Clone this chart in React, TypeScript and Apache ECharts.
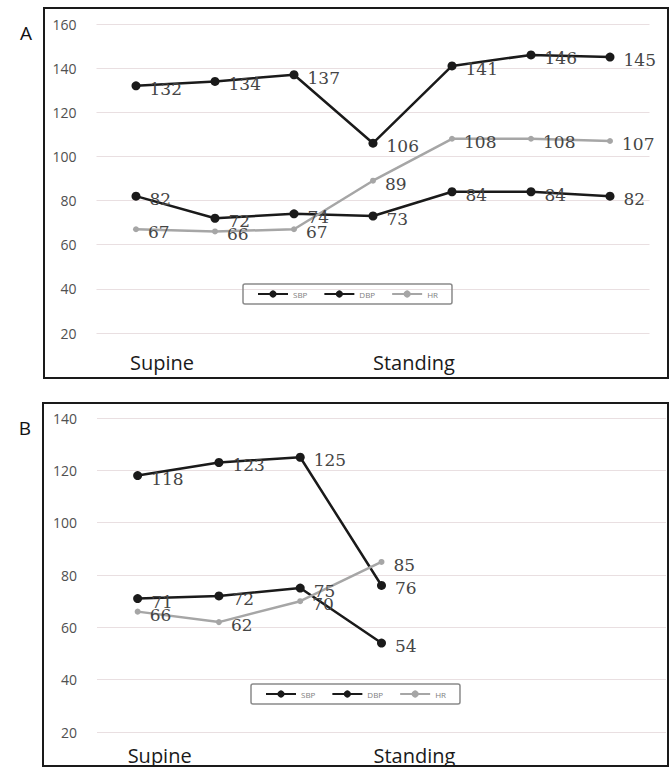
import React, { useEffect, useRef } from "react";
import * as echarts from "echarts";

const categoriesA = ["Supine", "", "", "Standing", "", "", ""];
const sbpA = [132, 134, 137, 106, 141, 146, 145];
const dbpA = [82, 72, 74, 73, 84, 84, 82];
const hrA = [67, 66, 67, 89, 108, 108, 107];

const categoriesB = ["Supine", "", "", "Standing", "", "", ""];
const sbpB = [118, 123, 125, 76];
const dbpB = [71, 72, 75, 54];
const hrB = [66, 62, 70, 85];

const legendNames = ["SBP", "DBP", "HR"];
const panelLetters = ["A", "B"];

const DARK = "#1a1a1a";
const GRAY = "#a6a6a6";
const GRID = "#e9dfe1";

function makeSeries(name: string, data: number[], idx: number, dark: boolean) {
  return {
    name,
    type: "line",
    xAxisIndex: idx,
    yAxisIndex: idx,
    data,
    symbol: "circle",
    symbolSize: dark ? 9 : 6,
    lineStyle: { color: dark ? DARK : GRAY, width: 2.5 },
    itemStyle: { color: dark ? DARK : GRAY },
    label: {
      show: true,
      position: "right",
      distance: 9,
      offset: [0, 3],
      fontFamily: "DejaVu Serif",
      fontSize: 17,
      color: "#454545",
    },
    emphasis: { disabled: true },
  };
}

const labelFont = { fontFamily: "Open Sans", fontSize: 20, color: "#1a1a1a" };

function xAxis(idx: number, cats: string[], margin: number, padFirst: number, padOther: number) {
  return {
    type: "category",
    gridIndex: idx,
    data: cats,
    boundaryGap: true,
    axisLine: { show: false },
    axisTick: { show: false },
    axisLabel: {
      interval: 0,
      align: "left",
      margin,
      ...labelFont,
      formatter: (v: string, i: number) => (v ? (i === 0 ? `{f|${v}}` : `{o|${v}}`) : ""),
      rich: {
        f: { ...labelFont, padding: [0, 0, 0, padFirst] },
        o: { ...labelFont, padding: [0, 0, 0, padOther] },
      },
    },
  };
}

function yAxis(idx: number, max: number) {
  return {
    type: "value",
    gridIndex: idx,
    min: 20,
    max,
    interval: 20,
    axisLine: { show: false },
    axisTick: { show: false },
    axisLabel: {
      margin: 20,
      fontFamily: "Open Sans",
      fontSize: 14,
      color: "#505050",
    },
    splitLine: { lineStyle: { color: GRID, width: 1.2 } },
  };
}

function legend(left: number, top: number) {
  return {
    data: legendNames,
    left,
    top,
    orient: "horizontal",
    itemWidth: 30,
    itemHeight: 9,
    itemGap: 16,
    padding: [6, 14],
    borderColor: "#8a8a8a",
    borderWidth: 1.5,
    borderRadius: 2,
    textStyle: { fontSize: 8, color: "#808080", fontFamily: "Open Sans" },
    selectedMode: false,
  };
}

export default function App() {
  const ref = useRef<HTMLDivElement>(null);
  useEffect(() => {
    if (!ref.current) return;
    const chart = echarts.init(ref.current, undefined, { renderer: "svg" });
    chart.setOption({
      animation: false,
      backgroundColor: "#ffffff",
      grid: [
        { left: 96.5, top: 24, width: 553, height: 309 },
        { left: 97, top: 418, width: 569, height: 314 },
      ],
      xAxis: [xAxis(0, categoriesA, 19, -6, 0), xAxis(1, categoriesB, 13, -10, -8)],
      yAxis: [yAxis(0, 160), yAxis(1, 140)],
      legend: [legend(243, 284), legend(251, 684)],
      series: [
        makeSeries("SBP", sbpA, 0, true),
        makeSeries("DBP", dbpA, 0, true),
        makeSeries("HR", hrA, 0, false),
        makeSeries("SBP", sbpB, 1, true),
        makeSeries("DBP", dbpB, 1, true),
        makeSeries("HR", hrB, 1, false),
      ],
      graphic: [
        {
          type: "rect",
          shape: { x: 44, y: 8, width: 624, height: 370 },
          style: { fill: "none", stroke: "#1a1a1a", lineWidth: 2 },
          silent: true,
        },
        {
          type: "rect",
          shape: { x: 43, y: 403, width: 625, height: 363 },
          style: { fill: "none", stroke: "#1a1a1a", lineWidth: 2 },
          silent: true,
        },
        {
          type: "text",
          x: 26,
          y: 33,
          style: {
            text: panelLetters[0],
            fontFamily: "Open Sans",
            fontSize: 19,
            fill: "#111",
            textAlign: "center",
            textVerticalAlign: "middle",
          },
        },
        {
          type: "text",
          x: 25,
          y: 428,
          style: {
            text: panelLetters[1],
            fontFamily: "Open Sans",
            fontSize: 19,
            fill: "#111",
            textAlign: "center",
            textVerticalAlign: "middle",
          },
        },
      ],
    });
    return () => chart.dispose();
  }, []);
  return (
    <div
      ref={ref}
      style={{ position: "absolute", left: 0, top: 0, width: 672, height: 767 }}
    />
  );
}
